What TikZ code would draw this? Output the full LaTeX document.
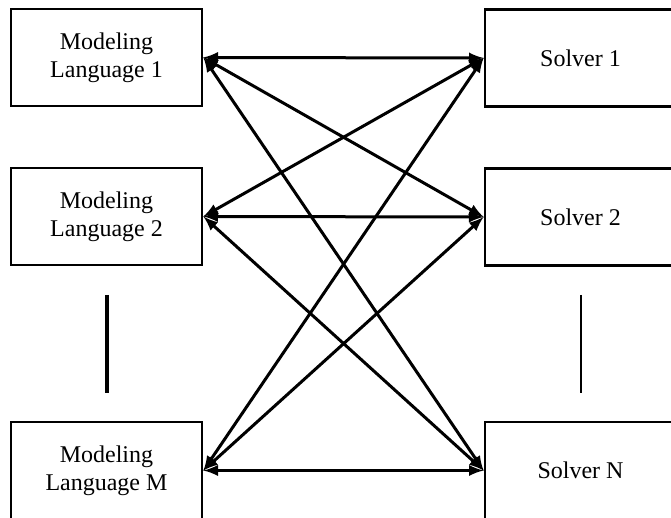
\documentclass[tikz,border=0pt]{standalone}
\usepackage{fontspec}
\setmainfont{Liberation Serif}
\begin{document}
\begin{tikzpicture}[x=0.5pt,y=-0.5pt,font=\fontsize{12}{14}\selectfont,
  box/.style={draw,line width=1.4pt,minimum width=95.5pt,minimum height=48.5pt,inner sep=0pt,align=center}]
\useasboundingbox(0,0)rectangle(671,518);
\node[box](lang1)at(106.5,57.5){Modeling\\Language 1};
\node[box](lang2)at(106.5,216.5){Modeling\\Language 2};
\node[box](langM)at(106.5,470.5){Modeling\\Language M};
\node[box](solv1)at(580.5,58){Solver 1};
\node[box](solv2)at(580.5,217){Solver 2};
\node[box](solvN)at(580.5,470.5){Solver N};
\foreach \a in {lang1,lang2,langM}
  \foreach \b in {solv1,solv2,solvN}
    \draw[latex-latex,line width=1.5pt](\a.east)--(\b.west);
\draw[line width=2pt](107,295)--(107,393);
\draw[line width=1.2pt](581,295)--(581,393);
\end{tikzpicture}
\end{document}
